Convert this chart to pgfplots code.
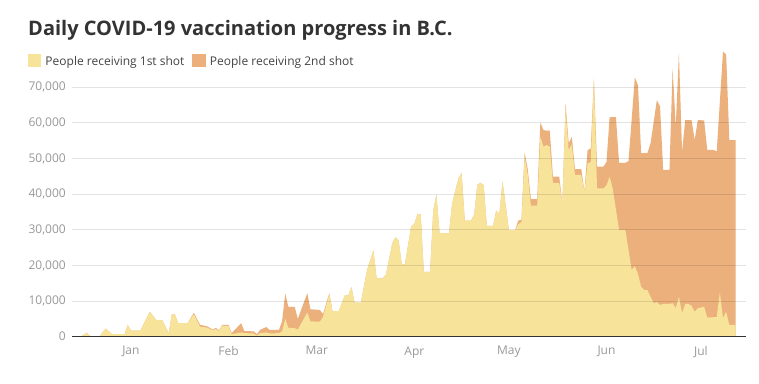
\documentclass[border=0pt]{standalone}
\usepackage{fontspec}
\setmainfont{Open Sans}
\usepackage{pgfplots}
\usepackage{pgfplotstable}
\pgfplotsset{compat=1.18}
\definecolor{firstc}{HTML}{F7E49A}
\definecolor{secondc}{HTML}{EBB07C}
\definecolor{titlec}{HTML}{333333}
\definecolor{tickc}{HTML}{999999}
\definecolor{legc}{HTML}{444444}

% day 0 = 1 Jan 2021; total = 1st + 2nd shots (top of orange area)
\pgfplotstableread{
d v
-16 0
-14 1100
-13 200
-12 0
-10 0
-8 2300
-6 700
-2 700
-1 3300
0 1700
3 1700
6 7000
8 4700
10 4600
12 950
13 6300
14 6200
15 3800
18 3800
20 6700
22 3300
24 3000
26 2000
27 2500
28 1700
29 3300
31 3300
32 1000
35 3800
36 1600
39 1500
40 700
41 1900
43 2700
44 1900
47 1900
48 4300
49 12100
50 8400
52 8400
53 5000
56 12200
57 7700
60 7500
61 6400
63 12200
64 7200
66 7200
68 11700
69 11500
70 13900
71 9600
73 9500
75 18700
77 24200
78 16400
80 16400
81 17500
83 26200
84 27900
85 27000
86 20300
87 20300
89 31000
90 31600
91 34400
92 34400
93 18200
95 18200
96 35300
97 39800
98 29100
101 29000
102 37400
104 44400
105 45900
106 32600
108 32600
109 34200
110 42600
111 43200
112 42500
113 31100
115 31100
116 35400
117 34500
118 43500
120 29900
122 29900
123 32600
124 32800
125 51700
126 47000
127 38600
129 38600
130 60100
131 58000
132 57800
133 57800
134 44900
136 44900
137 37400
138 65500
139 54300
140 56100
141 47000
143 47000
144 40700
145 52400
146 52800
147 72500
148 47700
150 47700
151 49000
152 61600
154 61600
155 48800
157 48800
158 49300
160 72800
161 70600
162 51500
164 51500
165 54300
167 66400
168 64600
169 46800
171 46800
172 75300
173 58900
174 79700
175 51900
176 60800
178 60800
179 55200
180 60800
182 60700
183 52400
185 52400
186 52000
188 80000
189 79200
190 55200
192 55200
}\totaltab

% people receiving 1st shot
\pgfplotstableread{
d v
-16 0
-14 1100
-13 200
-12 0
-10 0
-8 2300
-6 700
-2 700
-1 3300
0 1700
3 1700
6 7000
8 4700
10 4600
12 950
13 6300
14 6200
15 3800
18 3800
20 6300
22 2800
24 2600
26 1800
27 2200
28 1500
29 3100
31 3000
32 700
35 1200
36 1000
39 900
40 300
41 1000
43 1200
44 900
47 1000
48 1500
49 5000
50 2500
52 2400
53 2000
56 6800
57 4300
60 4200
61 5600
63 12000
64 7200
66 7200
68 11700
69 11500
70 13900
71 9600
73 9500
75 18700
77 24200
78 16400
80 16400
81 17500
83 26200
84 27900
85 27000
86 20300
87 20300
89 31000
90 31600
91 34400
92 34400
93 18200
95 18200
96 35300
97 39800
98 29100
101 29000
102 37400
104 44400
105 45900
106 32600
108 32600
109 34200
110 42600
111 43200
112 42500
113 31100
115 31100
116 35400
117 34500
118 43500
120 29900
122 29900
123 31600
124 32100
125 50800
126 45500
127 36800
129 36800
130 56100
131 53300
132 53800
133 53300
134 43200
136 43200
137 37400
138 64000
139 52400
140 54000
141 45400
143 45400
144 40700
145 48700
146 49000
147 72000
148 41600
150 41600
151 42500
152 44900
153 41500
155 29900
157 29900
159 18700
160 19800
161 17600
162 14000
163 13100
164 13100
165 11200
166 9400
167 9700
168 8900
169 9200
171 9200
172 9400
173 8000
174 11200
175 6600
176 9200
177 9200
178 8700
179 7000
180 8000
182 8400
183 5400
186 5500
187 12400
188 5200
189 7000
190 3300
192 3300
}\firsttab

\begin{document}
\begin{tikzpicture}
\path[use as bounding box] (0,0) rectangle (759pt,383pt);
\fill[white] (0,0) rectangle (759pt,383pt);
\begin{axis}[
  at={(72pt,46.3pt)}, anchor=south west,
  scale only axis, width=674pt, height=292.2pt,
  xmin=-18.7, xmax=195.3, ymin=0, ymax=82000,
  axis line style={draw=none},
  tick style={draw=none},
  major tick length=0pt,
  xtick={0,31,59,90,120,151,181},
  xticklabels={Jan,Feb,Mar,Apr,May,Jun,Jul},
  ytick={10000,20000,...,70000},
  extra y ticks={0},
  extra y tick style={grid style={draw=titlec, line width=1.5pt, opacity=1}},
  ymajorgrids,
  grid style={draw=black, opacity=0.11, line width=0.8pt},
  axis on top,
  scaled y ticks=false,
  /pgf/number format/1000 sep={,},
  /pgf/number format/assume math mode=true,
  tick label style={font=\fontsize{12}{14}\selectfont, text=tickc},
  yticklabel style={anchor=east, inner sep=0pt, xshift=-6pt},
  xticklabel style={anchor=north, inner sep=0pt, yshift=-9.5pt},
  legend columns=2,
  legend image code/.code={\fill[#1] (0pt,-5.5pt) rectangle (13.5pt,7.5pt);},
  legend style={draw=none, fill=none, inner sep=0pt, outer sep=0pt,
    at={(-0.0653,0.966)}, anchor=north west,
    font=\fontsize{12}{14}\selectfont, text=legc,
    nodes={inner sep=0pt},
    /tikz/every odd column/.style={column sep=4pt},
    /tikz/every even column/.style={column sep=8pt}},
]
\addplot[fill=secondc, draw=none, forget plot] table[x=d, y=v] {\totaltab} \closedcycle;
\addplot[fill=firstc, draw=none, forget plot] table[x=d, y=v] {\firsttab} \closedcycle;
\addlegendimage{fill=firstc, draw=none}
\addlegendentry{People receiving 1st shot}
\addlegendimage{fill=secondc, draw=none}
\addlegendentry{People receiving 2nd shot}
\end{axis}
\node[anchor=base west, inner sep=0pt, font=\fontsize{20}{24}\selectfont\bfseries, text=titlec] at (28pt,347pt) {Daily COVID-19 vaccination progress in B.C.};
\end{tikzpicture}
\end{document}
